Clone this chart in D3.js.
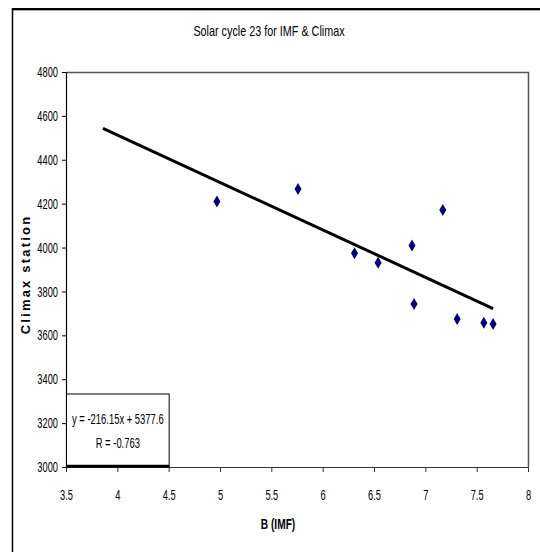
<!DOCTYPE html>
<html><head><meta charset="utf-8">
<script src="https://cdn.jsdelivr.net/npm/d3@7"></script>
<style>
body{margin:0;background:#fff;}
svg text{font-family:"Liberation Sans",Arial,sans-serif;}
</style></head>
<body>
<svg id="c" width="540" height="552"></svg>
<script>
const bValues = [4.97, 5.76, 6.31, 6.54, 6.87, 6.89, 7.17, 7.31, 7.57, 7.66];
const climaxValues = [4210, 4267, 3974, 3931, 4009, 3743, 4171, 3675, 3657, 3652];
const xTicks = [3.5, 4, 4.5, 5, 5.5, 6, 6.5, 7, 7.5, 8];
const yTicks = [3000, 3200, 3400, 3600, 3800, 4000, 4200, 4400, 4600, 4800];
const trendSlope = -216.15, trendIntercept = 5377.6;
const trendRange = [3.86, 7.66];
const titleText = "Solar cycle 23 for IMF & Climax";
const xLabel = "B (IMF)", yLabel = "Climax station";
const eqLines = ["y = -216.15x + 5377.6", "R = -0.763"];

const svg = d3.select("#c");
const L = 66, R = 528, T = 72, B = 467;
const x = d3.scaleLinear().domain([3.5, 8]).range([L, R]);
const y = d3.scaleLinear().domain([3000, 4800]).range([B, T]);

// condense text horizontally (narrow font look)
function condense(sel, f){
  sel.each(function(){
    const len = this.getComputedTextLength();
    d3.select(this).attr("textLength", len*f).attr("lengthAdjust","spacingAndGlyphs");
  });
}

// outer frame (cropped)
svg.append("line").attr("x1",12).attr("x2",540).attr("y1",9).attr("y2",9).attr("stroke","#000").attr("stroke-width",2);
svg.append("line").attr("x1",12).attr("x2",540).attr("y1",10.5).attr("y2",10.5).attr("stroke","#aaa").attr("stroke-width",1);
svg.append("line").attr("x1",12.5).attr("x2",12.5).attr("y1",8).attr("y2",552).attr("stroke","#000").attr("stroke-width",1.5);

// plot area border (top / right gray)
svg.append("path").attr("d",`M${L},${T+0.5}H${R+0.5}V${B}`).attr("fill","none").attr("stroke","#555").attr("stroke-width",1.5);

// title
svg.append("text").attr("x",269).attr("y",36).attr("text-anchor","middle").attr("font-size",15).attr("fill","#000").text(titleText)
  .call(condense, 0.72);

// axes
const xAxis = d3.axisBottom(x).tickValues(xTicks).tickSize(5).tickSizeOuter(0).tickFormat(d3.format("~g"));
const gx = svg.append("g").attr("transform",`translate(0,${B})`).call(xAxis);
gx.select(".domain").attr("stroke","#333").attr("stroke-width",1.2);
gx.selectAll(".tick line").attr("stroke","#333");
gx.selectAll("text").attr("font-size",14.5).attr("dy",0).attr("y",33).attr("fill","#000")
  .style("font-family",'"Liberation Sans",Arial,sans-serif').call(condense, 0.64);

const yAxis = d3.axisLeft(y).tickValues(yTicks).tickSize(4).tickSizeOuter(0).tickFormat(d3.format("d"));
const gy = svg.append("g").attr("transform",`translate(${L},0)`).call(yAxis);
gy.select(".domain").attr("stroke","#000").attr("stroke-width",1.2);
gy.selectAll(".tick line").attr("stroke","#000");
gy.selectAll("text").attr("font-size",14.5).attr("x",-8).attr("fill","#000")
  .style("font-family",'"Liberation Sans",Arial,sans-serif').call(condense, 0.64);

// axis titles
svg.append("text").attr("x",278).attr("y",529).attr("text-anchor","middle").attr("font-size",15).attr("font-weight","bold").text(xLabel)
  .call(condense, 0.68);
svg.append("text").attr("transform",`translate(30,${(T+B)/2 + 5}) rotate(-90)`).attr("text-anchor","middle")
  .attr("font-size",13).attr("font-weight","bold").attr("letter-spacing",2.2)
  .text(yLabel);

// trendline
svg.append("line")
  .attr("x1",x(trendRange[0])).attr("y1",y(trendSlope*trendRange[0]+trendIntercept))
  .attr("x2",x(trendRange[1])).attr("y2",y(trendSlope*trendRange[1]+trendIntercept))
  .attr("stroke","#000").attr("stroke-width",3);

// markers
const pts = bValues.map((b,i)=>({b, c: climaxValues[i]}));
svg.append("g").selectAll("path").data(pts).join("path")
  .attr("transform",d=>`translate(${x(d.b)},${y(d.c)})`)
  .attr("d","M0,-6L3.5,0L0,6L-3.5,0Z").attr("fill","#000080");

// equation box
const bx = x(3.5)+0.5, bw = x(4.5)-x(3.5), by = 394, bh = B-394;
svg.append("rect").attr("x",bx).attr("y",by).attr("width",bw).attr("height",bh).attr("fill","#fff").attr("stroke","#000").attr("stroke-width",1);
svg.append("line").attr("x1",bx).attr("x2",bx+bw).attr("y1",B-1).attr("y2",B-1).attr("stroke","#000").attr("stroke-width",2.5);
svg.append("text").attr("x",bx+bw/2).attr("y",424).attr("text-anchor","middle").attr("font-size",14.5).text(eqLines[0]).call(condense, 0.65);
svg.append("text").attr("x",bx+bw/2).attr("y",448).attr("text-anchor","middle").attr("font-size",14.5).text(eqLines[1]).call(condense, 0.65);
</script>
</body></html>
